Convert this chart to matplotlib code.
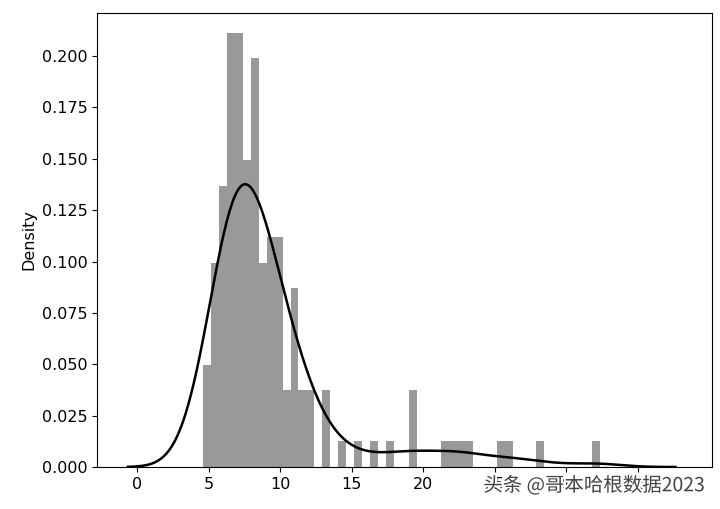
import numpy as np
import matplotlib
matplotlib.use("Agg")
from matplotlib import pyplot as plt
import matplotlib.patheffects as pe

plt.rcParams['font.family'] = ['DejaVu Sans', 'Noto Sans CJK SC']

# histogram: 50 equal bins between the data min and max
X_MIN = 4.62
X_MAX = 32.35
N_BINS = 50
# counts per bin (index = bin number)
bin_counts = [4, 8, 11, 17, 17, 12, 16, 8, 9, 9,
              3, 7, 3, 3, 0, 3, 0, 1, 0, 1,
              0, 1, 0, 1, 0, 0, 3, 0, 0, 0,
              1, 1, 1, 1, 0, 0, 0, 1, 1, 0,
              0, 0, 1, 0, 0, 0, 0, 0, 0, 1]
x_ticks = [0, 5, 10, 15, 20, 25, 30, 35]
y_ticks = [0.000, 0.025, 0.050, 0.075, 0.100, 0.125, 0.150, 0.175, 0.200]
watermark = "头条 @哥本哈根数据2023"

edges = np.linspace(X_MIN, X_MAX, N_BINS + 1)
centers = (edges[:-1] + edges[1:]) / 2
counts = np.array(bin_counts)

fig = plt.figure(figsize=(7.2, 5.09), dpi=100)
ax = fig.add_axes([0.135, 0.0825, 0.854, 0.892])

ax.hist(centers, bins=edges, weights=counts, density=True,
        color="black", alpha=0.4, linewidth=0)

# gaussian kde (scott) on the binned sample, like distplot does
sample = np.repeat(centers, counts)
bw = sample.std(ddof=1) * len(sample) ** (-1 / 5)
grid = np.linspace(X_MIN - 3 * bw, X_MAX + 3 * bw, 400)
dens = np.exp(-0.5 * ((grid[:, None] - sample[None, :]) / bw) ** 2).sum(axis=1)
dens /= len(sample) * bw * np.sqrt(2 * np.pi)
ax.plot(grid, dens, color="black", linewidth=1.8)

ax.set_xlim(-2.8, 40.2)
ax.set_ylim(0, 0.221)
ax.set_xticks(x_ticks)
ax.set_yticks(y_ticks)
ax.tick_params(labelsize=11.5)
ax.set_ylabel("Density", fontsize=11.5)

fig.text(0.98, 0.025, watermark, ha="right", va="bottom", fontsize=14,
         color="#444444", family=['Noto Sans CJK SC', 'DejaVu Sans'],
         path_effects=[pe.withStroke(linewidth=3, foreground="white")])

fig.savefig("out.png", dpi=100)
